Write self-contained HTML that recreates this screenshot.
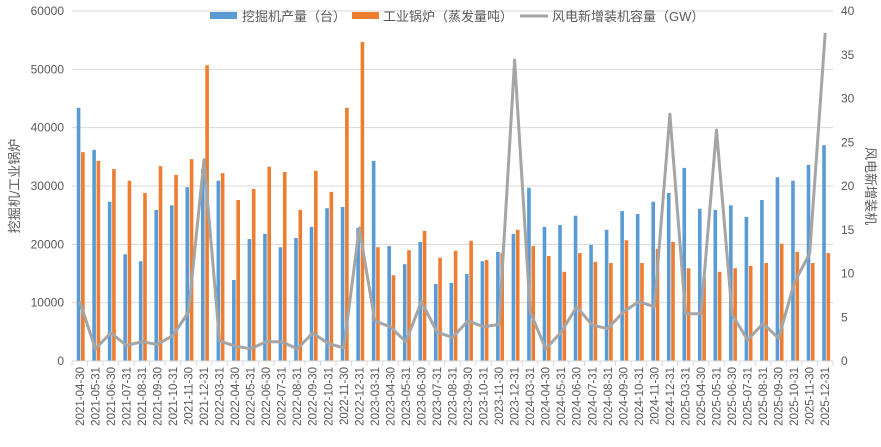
<!DOCTYPE html>
<html><head><meta charset="utf-8"><style>
html,body{margin:0;padding:0;background:#fff;}
svg{display:block;font-family:"Liberation Sans","Noto Sans CJK SC",sans-serif;}
</style></head><body>
<svg id="c" width="881" height="447" xmlns="http://www.w3.org/2000/svg"></svg>
<script>
const labels=[];
for(let y=2021;y<=2025;y++){const s=y==2021?4:3;for(let m=s;m<=12;m++){const d=[0,31,28,31,30,31,30,31,31,30,31,30,31][m];labels.push(y+"-"+String(m).padStart(2,"0")+"-"+d);}}
const blue=[43400,36200,27300,18300,17100,25900,26700,29800,32900,30900,13900,20900,21800,19500,21100,23000,26200,26400,22800,34300,19700,16600,20400,13200,13400,14900,17100,18700,21800,29700,23000,23300,24900,19900,22500,25700,25200,27300,28800,33100,26100,25900,26700,24700,27600,31500,30900,33600,37000];
const orange=[35800,34300,32900,30900,28800,33400,31900,34600,50700,32200,27600,29500,33300,32400,25900,32600,29000,43400,54700,19500,14700,19000,22300,17700,18900,20600,17300,18500,22500,19700,18000,15300,18500,17000,16800,20700,16800,19200,20400,15900,14400,15300,15900,16300,16800,20100,18700,16800,18500];
const line=[6.8,1.4,3.2,1.8,2.2,1.9,2.9,5.6,23,2.3,1.7,1.4,2.2,2.2,1.4,3.2,2,1.5,15.2,4.6,3.9,2.2,6.8,3.3,2.7,4.6,3.9,4.2,34.4,5.6,1.4,3.3,6.2,4.1,3.7,5.6,6.8,6.2,28.2,5.4,5.4,26.4,5.3,2.4,4.3,2.6,8.9,12.3,37.5];
const X0=72,X1=833,Y0=361,Y1=11,n=labels.length,step=(X1-X0)/n;
let s="";
for(let k=0;k<=6;k++){const y=Y0-(Y0-Y1)*k/6;s+=`<line x1="${X0}" x2="${X1}" y1="${y}" y2="${y}" stroke="#d9d9d9" stroke-width="1"/>`;
s+=`<text x="64" y="${y+4}" font-size="12" fill="#595959" text-anchor="end">${k*10000}</text>`;}
for(let k=0;k<=8;k++){const y=Y0-(Y0-Y1)*k/8;s+=`<text x="841" y="${y+4}" font-size="12" fill="#595959">${k*5}</text>`;}
for(let i=0;i<=n;i++){const x=X0+i*step;s+=`<line x1="${x}" x2="${x}" y1="${Y0}" y2="${Y0+5}" stroke="#d9d9d9"/>`;}
const vy=v=>Y0-v*(Y0-Y1)/60000, ly=v=>Y0-v*(Y0-Y1)/40;
let pts=[];
for(let i=0;i<n;i++){const c=X0+step*(i+0.5);
s+=`<rect x="${c-3}" y="${vy(blue[i])}" width="3.6" height="${Y0-vy(blue[i])}" fill="#5b9bd5"/>`;
s+=`<rect x="${c+1.3}" y="${vy(orange[i])}" width="3.6" height="${Y0-vy(orange[i])}" fill="#ed7d31"/>`;
pts.push(c.toFixed(1)+","+ly(line[i]).toFixed(1));
s+=`<text transform="translate(${c+4},367) rotate(-90)" font-size="11.5" fill="#595959" text-anchor="end">${labels[i]}</text>`;}
s+=`<line x1="${X0}" x2="${X1}" y1="${Y0}" y2="${Y0}" stroke="#d9d9d9"/>`;
s+=`<polyline points="${pts.join(" ")}" fill="none" stroke="#a5a5a5" stroke-width="3" stroke-linejoin="round"/>`;
s+=`<rect x="210" y="12" width="27" height="7" fill="#5b9bd5"/><text x="242" y="21" font-size="13" fill="#595959">挖掘机产量（台）</text>`;
s+=`<rect x="352" y="12" width="27" height="7" fill="#ed7d31"/><text x="383" y="21" font-size="13" fill="#595959">工业锅炉（蒸发量吨）</text>`;
s+=`<line x1="520" x2="548" y1="16" y2="16" stroke="#a5a5a5" stroke-width="3"/><text x="552" y="21" font-size="13" fill="#595959">风电新增装机容量（GW）</text>`;
s+=`<text transform="translate(19,186) rotate(-90)" font-size="13" fill="#595959" text-anchor="middle">挖掘机/工业锅炉</text>`;
s+=`<text transform="translate(866,186) rotate(90)" font-size="13" fill="#595959" text-anchor="middle">风电新增装机</text>`;
document.getElementById("c").innerHTML=s;
</script>
</body></html>
